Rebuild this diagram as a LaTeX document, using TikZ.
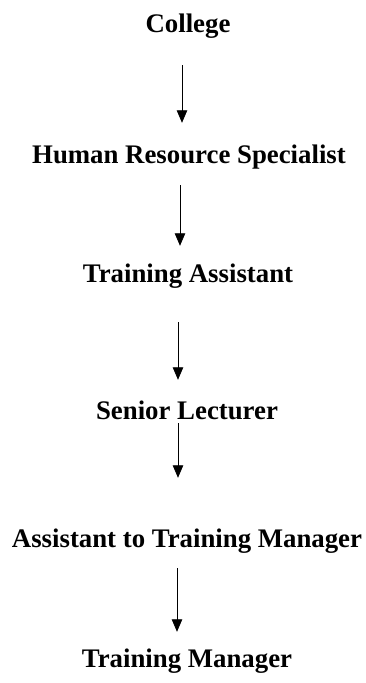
\documentclass[tikz,border=0pt]{standalone}
\usepackage{fontspec}
\setmainfont{Liberation Serif}
\usetikzlibrary{arrows.meta}
\begin{document}
\begin{tikzpicture}[x=1pt,y=1pt,
  lbl/.style={font=\fontsize{26.8}{30}\selectfont\bfseries, inner sep=0pt, anchor=base, text height=18pt, text depth=6pt},
  arr/.style={line width=0.9pt, -{Triangle[length=12.5pt,width=10.5pt]}}]
\useasboundingbox (0,0) rectangle (366,683);
\node[lbl] (a) at (188,650) {College};
\node[lbl] (b) at (189,519) {Human Resource Specialist};
\node[lbl] (c) at (188,400) {Training Assistant};
\node[lbl] (d) at (187,263) {Senior Lecturer};
\node[lbl] (e) at (187,135) {Assistant to Training Manager};
\node[lbl] (f) at (187,15) {Training Manager};
\draw[arr, shorten <=26pt, shorten >=23pt] (a.south -| 182,0) -- (b.north -| 182,0);
\draw[arr, shorten <=15pt, shorten >=19pt] (b.south -| 180,0) -- (c.north -| 180,0);
\draw[arr, shorten <=33pt, shorten >=22pt] (c.south -| 178,0) -- (d.north -| 178,0);
\draw[arr, shorten <=-3pt, shorten >=52pt] (d.south -| 178,0) -- (e.north -| 178,0);
\draw[arr, shorten <=14pt, shorten >=18pt] (e.south -| 177,0) -- (f.north -| 177,0);
\end{tikzpicture}
\end{document}
